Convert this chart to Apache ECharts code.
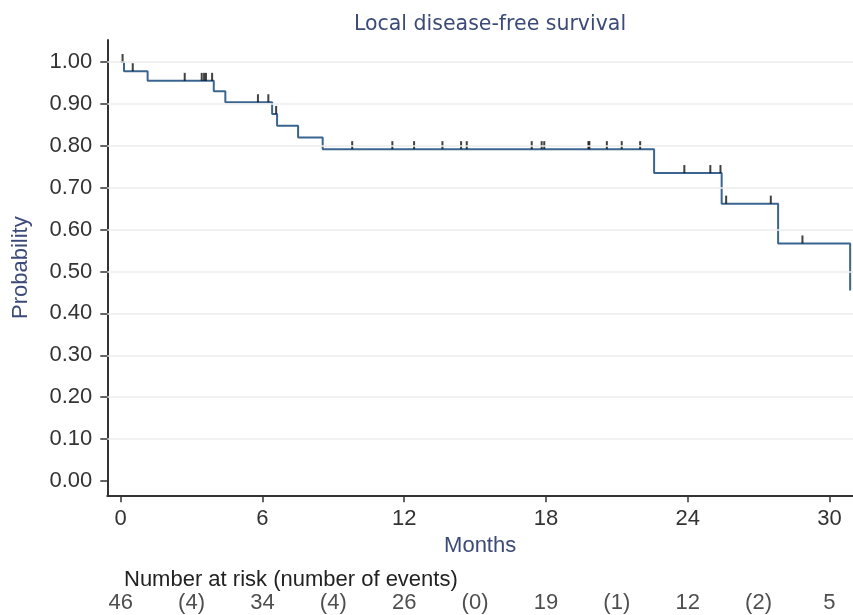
<!DOCTYPE html>
<html><head><meta charset="utf-8">
<script src="https://cdn.jsdelivr.net/npm/echarts@6/dist/echarts.min.js"></script>
<style>html,body{margin:0;padding:0;background:#fff}#c{width:853px;height:615px}</style>
</head><body><div id="c"></div>
<script>
// Kaplan-Meier steps (time in months, survival probability)
const eventTimes = [0, 0.14, 1.14, 3.94, 4.43, 6.41, 6.62, 7.51, 8.55, 22.58, 25.44, 27.83, 30.88];
const survival   = [1.000, 0.978, 0.955, 0.930, 0.904, 0.876, 0.848, 0.820, 0.792, 0.735, 0.662, 0.567, 0.455];
// censored observations (months)
const censorTimes = [0.08, 0.51, 2.71, 3.43, 3.53, 3.61, 3.87, 5.81, 6.25, 6.58, 9.80, 11.50, 12.42, 13.62,
  14.41, 14.65, 17.40, 17.82, 17.93, 19.80, 19.84, 20.58, 21.21, 21.99, 23.86, 24.96, 25.39, 25.63, 27.52, 28.86];
const xTicks = [0, 6, 12, 18, 24, 30];
const yTicks = [0, 0.1, 0.2, 0.3, 0.4, 0.5, 0.6, 0.7, 0.8, 0.9, 1.0];
const gridYTicks = [0.1, 0.2, 0.3, 0.4, 0.5, 0.6, 0.7, 0.8, 0.9, 1.0];
const riskTimes = [0, 6, 12, 18, 24, 30];
const riskCounts = [46, 34, 26, 19, 12, 5];
const eventWindowMid = [3, 9, 15, 21, 27];
const eventCounts = [4, 4, 0, 1, 2];

const FONT = '"Liberation Sans", Arial, sans-serif';
const NAVY = '#3b4a78';
const XMIN = -0.567, XMAX = 31.0, YMIN = -0.034, YMAX = 1.0525;

function survivalAt(t) {
  let s = survival[0];
  for (let i = 0; i < eventTimes.length; i++) { if (eventTimes[i] <= t) s = survival[i]; }
  return s;
}
const kmData = eventTimes.map((t, i) => [t, survival[i]]);
const censorData = censorTimes.map(t => [t, survivalAt(t)]);
const riskData = riskTimes.map((t, i) => ({ value: [t, 0.5], label: { formatter: String(riskCounts[i]) } }));
const evData = eventWindowMid.map((t, i) => ({ value: [t, 0.5], label: { formatter: '(' + eventCounts[i] + ')' } }));

const chart = echarts.init(document.getElementById('c'), null, { renderer: 'canvas' });
chart.setOption({
  animation: false,
  backgroundColor: '#fff',
  title: {
    text: 'Local disease-free survival',
    left: 485, top: 9, textAlign: 'center',
    textStyle: { fontFamily: '"DejaVu Sans", sans-serif', fontSize: 20.5, fontWeight: 'normal', color: NAVY }
  },
  grid: [
    { left: 107.3, right: 0, top: 40, bottom: 119.7, containLabel: false },
    { left: 107.3, right: 0, top: 591, height: 24, containLabel: false }
  ],
  xAxis: [{
    gridIndex: 0, type: 'value', min: XMIN, max: XMAX,
    name: 'Months', nameLocation: 'middle', nameGap: 40,
    nameTextStyle: { fontFamily: FONT, fontSize: 22, color: NAVY },
    axisLine: { show: true, onZero: false, lineStyle: { color: '#333', width: 2 } },
    axisTick: { show: true, customValues: xTicks, length: 7, lineStyle: { color: '#333', width: 1.5 } },
    axisLabel: { customValues: xTicks, margin: 13, fontFamily: FONT, fontSize: 22, color: '#333' },
    splitLine: { show: false }
  }, {
    gridIndex: 1, type: 'value', min: XMIN, max: XMAX, show: false
  }],
  yAxis: [{
    gridIndex: 0, type: 'value', min: YMIN, max: YMAX,
    name: 'Probability', nameLocation: 'middle', nameGap: 75,
    nameTextStyle: { fontFamily: FONT, fontSize: 22, color: NAVY },
    axisLine: { show: true, onZero: false, lineStyle: { color: '#333', width: 2 } },
    axisTick: { show: true, customValues: yTicks, length: 7, lineStyle: { color: '#333', width: 1.5 } },
    axisLabel: { customValues: yTicks, margin: 15, fontFamily: FONT, fontSize: 22, color: '#333',
      formatter: v => v.toFixed(2) },
    splitLine: { show: false }
  }, {
    gridIndex: 1, type: 'value', min: 0, max: 1, show: false
  }],
  graphic: [{
    type: 'text', left: 124, top: 569,
    style: { text: 'Number at risk (number of events)', font: '22px ' + FONT, fill: '#222' }
  }],
  series: [{
    type: 'line', xAxisIndex: 0, yAxisIndex: 0, step: 'end', data: kmData,
    showSymbol: false, symbol: 'none',
    lineStyle: { color: '#3a6590', width: 2 },
    markLine: {
      silent: true, symbol: 'none', label: { show: false },
      lineStyle: { color: '#ececec', width: 1.5, type: 'solid' },
      data: gridYTicks.map(v => ({ yAxis: v }))
    },
    z: 3
  }, {
    type: 'scatter', xAxisIndex: 0, yAxisIndex: 0, data: censorData,
    symbol: 'rect', symbolSize: [2, 8], symbolOffset: [0, -4],
    itemStyle: { color: '#111' }, z: 4
  }, {
    type: 'scatter', xAxisIndex: 1, yAxisIndex: 1, data: riskData.concat(evData),
    symbolSize: 1, itemStyle: { color: 'rgba(0,0,0,0)' },
    label: { show: true, position: 'inside', fontFamily: FONT, fontSize: 22, color: '#222' }
  }]
});
</script>
</body></html>
